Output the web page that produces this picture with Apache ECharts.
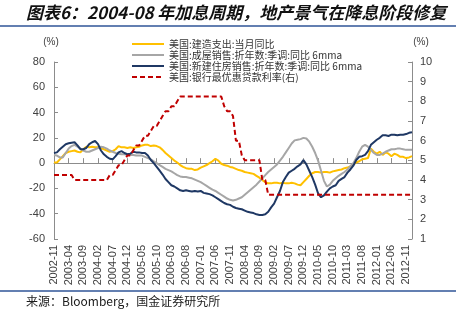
<!DOCTYPE html>
<html>
<head>
<meta charset="utf-8">
<script src="https://cdn.jsdelivr.net/npm/echarts@6/dist/echarts.min.js"></script>
<style>
html,body{margin:0;padding:0;background:#fff;}
#chart{width:456px;height:321px;}
</style>
</head>
<body>
<div id="chart"></div>
<script>
// ---- data ----
const startYear = 2002, startMonth = 11, monthCount = 123; // 2002-11 .. 2013-01
const categories = [];
for (let k = 0; k < monthCount; k++) {
  const m = startMonth - 1 + k;
  const y = startYear + Math.floor(m / 12);
  const mm = (m % 12) + 1;
  categories.push(y + '-' + (mm < 10 ? '0' + mm : mm));
}

const seriesNames = [
  '美国:建造支出:当月同比',
  '美国:成屋销售:折年数:季调:同比 6mma',
  '美国:新建住房销售:折年数:季调:同比 6mma',
  '美国:银行最优惠贷款利率(右)'
];

const constructionYoY = [
  0.5,0.5,3,5.5,8,9,9.5,10,9,8.5,
  11,13,12.5,13,12.5,12.5,12,11,10,9,
  9.5,11,13.5,12.5,12.5,12,12.5,12,12.5,13,
  14,14.5,14.5,13.5,14,13.5,12.5,10.5,8,6,
  4,2,0.5,-1.5,-3,-4,-4.5,-4.5,-5.5,-5,
  -3.5,-2.5,-1.5,0,1.5,3.5,2,-0.5,-1.5,-2,
  -3,-3.5,-4.5,-5.5,-6,-7,-7.5,-8,-8.5,-10,
  -11.5,-13.5,-15,-16,-16,-15.5,-15.5,-16,-15.5,-16,
  -16,-15.5,-16,-17,-17.5,-15,-12.5,-10,-8,-7,
  -7,-7.5,-7,-7,-7.5,-6.5,-6,-5.5,-5,-4,
  -3.5,-2.5,-1,0.5,1.5,3,3.5,4,11.5,9,
  7.5,9,6.5,8.5,7.5,5.5,7.5,6.5,5,5,
  4,4.5,5.5
];

const existingHomeSales = [
  6.5,6,4.5,4.5,8,11.5,13.5,14.5,13,11.5,
  10,9,9,10,11,12,13,12.5,11.5,10,
  9,8,7.5,7,7,6.5,6.5,6.5,6,6,
  6,5,4,3,1.5,0,-1.5,-3,-4.5,-5.5,
  -6.5,-8,-9.5,-10.5,-11,-11,-11.5,-12,-13,-14,
  -15,-16.5,-18,-19.5,-21,-22,-23.5,-25,-26.5,-28,
  -29,-29.5,-29,-28,-27,-25,-23,-21,-19,-17,
  -14.5,-12,-9.5,-7,-5,-3,-1,2,5,8.5,
  12,15.5,18,18.5,19,20,19.5,17,13,8,
  2,-6,-14,-18.5,-17,-14,-12,-10,-8.5,-7,
  -5,-2.5,0,4,9,13,14.5,13,10.5,8,
  6.5,6.5,7.5,9,10,11,11,11.5,11.5,11,
  10.5,10.5,10.5
];

const newHomeSales = [
  8,8.5,11,13,15,15.7,16.2,16.5,14,11,
  11,12,15,16.5,17.5,15,10,7,5,3.5,
  3,5.5,8.5,9.5,8,7,7.5,9,8.5,8.5,
  8,8,6,2.5,0,-3,-6,-9,-12.5,-15,
  -17.5,-18.5,-20,-21.5,-22,-21.5,-22,-22.5,-22,-22.5,
  -22,-23.5,-24,-24.5,-25.5,-27,-28.5,-30,-31.5,-32.5,
  -33,-34.5,-35.5,-36,-36.5,-37.5,-38.5,-39,-39.5,-40.5,
  -41,-41,-40.5,-38.5,-35,-32,-27,-22,-15,-11,
  -7.5,-6,-4.5,-2.5,-1,2.5,-1,-6,-11,-17,
  -24,-27,-25.5,-22.5,-20,-18.5,-17.5,-14,-12.5,-11,
  -7.5,-5,-2,2.5,5,5.5,6.5,9.5,14.5,16.5,
  18.5,20,22,22,21.5,22.5,22.5,22,22.5,22.5,
  23,24,24.5
];

const primeRate = [
  4.25,4.25,4.25,4.25,4.25,4.25,4.25,4.00,4.00,4.00,
  4.00,4.00,4.00,4.00,4.00,4.00,4.00,4.00,4.00,4.25,
  4.25,4.50,4.75,4.75,5.00,5.25,5.25,5.50,5.75,5.75,
  6.00,6.25,6.25,6.50,6.75,6.75,7.00,7.25,7.50,7.50,
  7.75,7.75,8.00,8.25,8.25,8.25,8.25,8.25,8.25,8.25,
  8.25,8.25,8.25,8.25,8.25,8.25,8.25,8.25,7.75,7.50,
  7.50,7.25,6.00,6.00,5.25,5.00,5.00,5.00,5.00,5.00,
  5.00,4.00,4.00,3.25,3.25,3.25,3.25,3.25,3.25,3.25,
  3.25,3.25,3.25,3.25,3.25,3.25,3.25,3.25,3.25,3.25,
  3.25,3.25,3.25,3.25,3.25,3.25,3.25,3.25,3.25,3.25,
  3.25,3.25,3.25,3.25,3.25,3.25,3.25,3.25,3.25,3.25,
  3.25,3.25,3.25,3.25,3.25,3.25,3.25,3.25,3.25,3.25,
  3.25,3.25,3.25
];

const leftTicks = { min: -60, max: 80, interval: 20 };
const rightTicks = { min: 1, max: 10, interval: 1 };

// ---- chart ----
const chart = echarts.init(document.getElementById('chart'), null, { renderer: 'canvas' });
const FONT = '"Noto Sans CJK SC", "Noto Sans", sans-serif';
const NUMFONT = '"Liberation Sans", Arial, sans-serif';
const AX = '#8c8c8c';
const LBL = '#404040';

const option = {
  animation: false,
  backgroundColor: '#fff',
  textStyle: { fontFamily: FONT },
  grid: { left: 54, right: 44, top: 62, bottom: 82, containLabel: false },
  legend: {
    orient: 'vertical',
    left: 126, top: 34,
    itemWidth: 32, itemHeight: 12, itemGap: 1,
    itemStyle: { opacity: 0 },
    textStyle: { fontSize: 10, color: '#333', fontFamily: FONT },
    data: seriesNames
  },
  xAxis: [
    {
      type: 'category', data: categories, boundaryGap: false,
      axisLine: { onZero: true, onZeroAxisIndex: 0, lineStyle: { color: AX, width: 1 } },
      axisTick: { inside: true, length: 5, interval: 4, lineStyle: { color: AX } },
      axisLabel: { show: false },
      splitLine: { show: false }
    },
    {
      type: 'category', data: categories, boundaryGap: false, position: 'bottom',
      axisLine: { show: false, onZero: false },
      axisTick: { show: false },
      axisLabel: { rotate: 90, interval: 4, fontSize: 11, color: LBL, margin: 6, fontFamily: NUMFONT },
      splitLine: { show: false }
    }
  ],
  yAxis: [
    {
      type: 'value', position: 'left',
      min: leftTicks.min, max: leftTicks.max, interval: leftTicks.interval,
      axisLine: { show: true, lineStyle: { color: AX } },
      axisTick: { show: true, inside: true, length: 4, lineStyle: { color: AX } },
      axisLabel: { fontSize: 11, color: LBL, margin: 9, fontFamily: NUMFONT },
      splitLine: { show: false }
    },
    {
      type: 'value', position: 'right',
      min: rightTicks.min, max: rightTicks.max, interval: rightTicks.interval,
      axisLine: { show: true, lineStyle: { color: AX } },
      axisTick: { show: true, inside: true, length: 4, lineStyle: { color: AX } },
      axisLabel: { fontSize: 11, color: LBL, margin: 8, fontFamily: NUMFONT },
      splitLine: { show: false }
    }
  ],
  series: [
    { name: seriesNames[0], type: 'line', data: constructionYoY, xAxisIndex: 0, yAxisIndex: 0, symbol: 'none',
      lineStyle: { color: '#FFC000', width: 2 }, itemStyle: { color: '#FFC000' } },
    { name: seriesNames[1], type: 'line', data: existingHomeSales, xAxisIndex: 0, yAxisIndex: 0, symbol: 'none',
      lineStyle: { color: '#A6A6A6', width: 2 }, itemStyle: { color: '#A6A6A6' } },
    { name: seriesNames[2], type: 'line', data: newHomeSales, xAxisIndex: 0, yAxisIndex: 0, symbol: 'none',
      lineStyle: { color: '#1F3864', width: 2 }, itemStyle: { color: '#1F3864' } },
    { name: seriesNames[3], type: 'line', data: primeRate, xAxisIndex: 0, yAxisIndex: 1, symbol: 'none',
      lineStyle: { color: '#C00000', width: 2, type: [5, 3] }, itemStyle: { color: '#C00000' } }
  ],
  graphic: [
    { type: 'text', left: 26, top: 4,
      style: { text: '图表6：2004-08 年加息周期，地产景气在降息阶段修复', fontSize: 17, fontWeight: 'bold', fontStyle: 'italic', fill: '#111', fontFamily: FONT } },
    { type: 'line', shape: { x1: 0, y1: 26, x2: 456, y2: 26 }, style: { stroke: '#2F5597', lineWidth: 1.5 } },
    { type: 'text', x: 51, y: 42, style: { text: '(%)', fontSize: 10, fill: LBL, align: 'center', verticalAlign: 'middle', fontFamily: NUMFONT } },
    { type: 'text', x: 421, y: 42, style: { text: '(%)', fontSize: 10, fill: LBL, align: 'center', verticalAlign: 'middle', fontFamily: NUMFONT } },
    { type: 'line', shape: { x1: 0, y1: 291, x2: 456, y2: 291 }, style: { stroke: '#2F5597', lineWidth: 1.5 } },
    { type: 'text', left: 26, top: 295,
      style: { text: '来源：Bloomberg，国金证券研究所', fontSize: 12, fill: '#1a1a1a', fontFamily: FONT } }
  ]
};
chart.setOption(option);
</script>
</body>
</html>
